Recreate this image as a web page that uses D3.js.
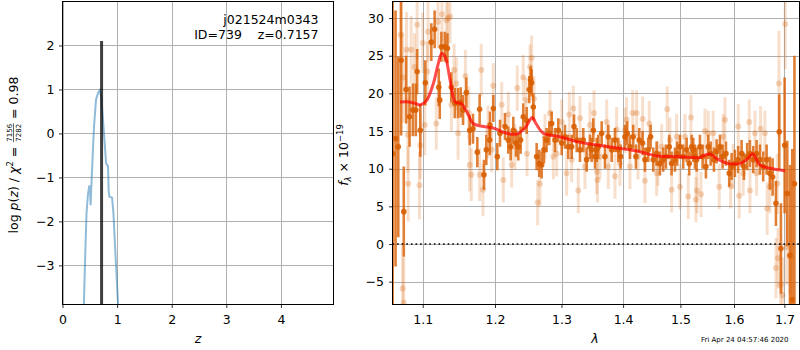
<!DOCTYPE html>
<html>
<head>
<meta charset="utf-8">
<script src="https://cdn.jsdelivr.net/npm/d3@7"></script>
<style>
  body { margin: 0; background: #fff; }
  text { font-family: "DejaVu Sans", sans-serif; }
</style>
</head>
<body>
<script>
// ---- left panel: log p(z) ----
const zGrid = [0.385, 0.42, 0.44, 0.465, 0.478, 0.49, 0.503, 0.515, 0.528, 0.552, 0.577, 0.613, 0.65,
  0.681, 0.71, 0.76, 0.798, 0.834, 0.845, 0.859, 0.908, 0.933, 0.975, 1.018, 1.03];
const logPz = [-4.2, -2.6, -1.82, -1.4, -1.29, -1.2, -1.2, -1.63, -1.21, -0.53, 0.15, 0.76, 0.92,
  0.98, 0.83, 0.0, -0.68, -0.75, -1.3, -1.44, -1.46, -1.82, -2.88, -3.88, -4.3];
const zBest = 0.7157;
const zBestTop = 2.1;
const zTicks = [0, 1, 2, 3, 4];
const zTickLabels = ["0", "1", "2", "3", "4"];
const pTicks = [-3, -2, -1, 0, 1, 2];
const pTickLabels = ["\u22123", "\u22122", "\u22121", "0", "1", "2"];
const chiNum = "7156", chiDen = "7282", chiRatio = "0.98";
const fieldName = "j021524m0343";
const idText = "ID=739    z=0.7157";

// ---- right panel: spectrum ----
const darkLam = [1.0609, 1.0646, 1.0681, 1.0718, 1.0752, 1.0782, 1.0827, 1.0870, 1.0909, 1.0926, 1.0968,
  1.1034, 1.1114, 1.1159, 1.1214, 1.1228, 1.1250, 1.1296, 1.1332, 1.1386, 1.1433, 1.1478, 1.1515, 1.1547,
  1.1593, 1.1640, 1.1686, 1.1747, 1.1780, 1.1842, 1.1875, 1.1924, 1.1928, 1.1975, 1.2033, 1.2072, 1.2145,
  1.2193, 1.2228, 1.2267, 1.2307, 1.2341, 1.2376, 1.2415, 1.2466, 1.2505, 1.2526, 1.2541, 1.2566, 1.2617,
  1.2656, 1.2693, 1.2728, 1.2769, 1.2810, 1.2847, 1.2898, 1.2950, 1.3003, 1.3054, 1.3106, 1.3160, 1.3197,
  1.3240, 1.3292, 1.3345, 1.3399, 1.3453, 1.3481, 1.3507, 1.3535, 1.3562, 1.3588, 1.3644, 1.3698, 1.3753,
  1.3809, 1.3864, 1.3919, 1.3959, 1.4031, 1.4070, 1.4116, 1.4172, 1.4218, 1.4275, 1.4333, 1.4373, 1.4430,
  1.4472, 1.4518, 1.4577, 1.4635, 1.4693, 1.4741, 1.4800, 1.4842, 1.4902, 1.4943, 1.4992, 1.5051, 1.5113,
  1.5160, 1.5204, 1.5234, 1.5265, 1.5296, 1.5357, 1.5407, 1.5468, 1.5511, 1.5556, 1.5618, 1.5668, 1.5731,
  1.5782, 1.5845, 1.5908, 1.5954, 1.6017, 1.6081, 1.6147, 1.6192, 1.6256, 1.6309, 1.6374, 1.6441, 1.6507,
  1.6572, 1.6640, 1.6706, 1.6761, 1.6828, 1.6895, 1.6929, 1.7005, 1.7059, 1.7114, 1.7162, 1.7207];
const darkFlux = [12, 14, 12.9, 24.4, 4.3, 20.5, 16.9, 17.8, 17.8, 22.9, 15.1,
  21.4, 26.8, 28.5, 20.8, 19.1, 26.2, 26.2, 26.0, 20.8, 18.7, 18.7, 18.8, 17.8,
  20.1, 15.1, 15.3, 12.2, 17.9, 9.2, 12.5, 13.8, 15.8, 18.0, 11.6, 14.7, 15.6,
  13.8, 12.9, 15.1, 13.4, 12.9, 13.8, 16.9, 16.4, 20.5, 21.8, 21.4, 18.2, 11.6,
  10.7, 10.5, 12.5, 13.8, 14.7, 16.0, 13.8, 15.1, 13.4, 14.25, 12.9, 12.9, 15.6,
  13.8, 12.5, 13.8, 11.2, 12.9, 12.5, 15.1, 11.6, 12.5, 12.9, 14.7, 11.6, 14.25,
  12.5, 13.8, 12.5, 11.6, 14.25, 14.7, 12.9, 14.25, 11.6, 13.8, 13.4, 11.2, 12.5,
  14.25, 11.2, 12.0, 10.7, 11.2, 11.6, 12.9, 10.7, 11.2, 12.0, 12.9, 11.6, 12.5,
  10.7, 12.9, 12.5, 11.6, 11.2, 12.9, 11.6, 10.3, 12.9, 12.0, 11.2, 12.3, 12.9,
  11.6, 12.0, 9.4, 10.3, 10.7, 11.2, 12.0, 10.3, 11.6, 12.0, 11.2, 12.0, 11.2,
  10.3, 11.2, 9.4, 8.9, 5.4, 14.9, -0.6, 13.1, 6.7, -1.5, -7.4, 8];
const darkErr = [25, 17, 12, 10, 6, 4.5, 4, 3.5, 3.5, 3, 3.5,
  3, 2.5, 2.5, 2.5, 2.5, 2, 2, 2, 2, 2, 2, 2, 2,
  2, 2, 2, 2, 2, 2, 2, 2, 1.8, 1.8, 1.8, 1.8, 1.8,
  1.8, 1.8, 1.8, 1.8, 1.8, 1.8, 1.8, 1.8, 1.8, 1.8, 1.8, 1.8, 1.8,
  1.8, 1.8, 1.8, 1.6, 1.6, 1.6, 1.6, 1.6, 1.6, 1.6, 1.6, 1.6, 1.6,
  1.6, 1.6, 1.6, 1.6, 1.6, 1.6, 1.6, 1.6, 1.6, 1.6, 1.6, 1.6, 1.6,
  1.6, 1.6, 1.6, 1.6, 1.6, 1.6, 1.6, 1.6, 1.6, 1.6, 1.6, 1.6, 1.6,
  1.6, 1.6, 1.6, 1.6, 1.6, 1.6, 1.6, 1.6, 1.6, 1.6, 1.6, 1.6, 1.6,
  1.6, 1.6, 1.6, 1.6, 1.6, 1.6, 1.6, 1.6, 1.6, 1.6, 1.6, 1.6, 1.6,
  1.6, 1.6, 1.8, 1.8, 1.8, 1.8, 1.8, 1.8, 1.8, 1.8, 1.8, 1.8, 2,
  2, 2, 2.2, 2.5, 3, 5, 6, 9, 7, 12, 20, 17];

const lightLam = [1.0710, 1.0736, 1.0740, 1.0752, 1.0788, 1.0805, 1.0809, 1.0848, 1.0892, 1.0926, 1.0957,
  1.0968, 1.1000, 1.1027, 1.1061, 1.1070, 1.1181, 1.1204, 1.1258, 1.1318, 1.1340, 1.1368, 1.1386, 1.1423,
  1.1455, 1.1478, 1.1579, 1.1626, 1.1640, 1.1662, 1.1780, 1.1803, 1.1827, 1.1899, 1.1952, 1.1975, 1.2097,
  1.2120, 1.2193, 1.2243, 1.2292, 1.2326, 1.2415, 1.2455, 1.2471, 1.2516, 1.2541, 1.2576, 1.2632, 1.2667,
  1.2744, 1.2821, 1.2872, 1.2925, 1.3003, 1.3081, 1.3122, 1.3160, 1.3186, 1.3265, 1.3292, 1.3372, 1.3453,
  1.3518, 1.3562, 1.3575, 1.3616, 1.3727, 1.3753, 1.3864, 1.3892, 1.3947, 1.4031, 1.4060, 1.4116, 1.4162,
  1.4230, 1.4253, 1.4333, 1.4373, 1.4448, 1.4577, 1.4600, 1.4665, 1.4764, 1.4812, 1.4842, 1.4932, 1.4992,
  1.5082, 1.5142, 1.5192, 1.5283, 1.5302, 1.5376, 1.5450, 1.5511, 1.5604, 1.5718, 1.5793, 1.5826, 1.5934,
  1.5984, 1.6081, 1.6100, 1.6178, 1.6296, 1.6309, 1.6408, 1.6441, 1.6520, 1.6606, 1.6652, 1.6706, 1.6828,
  1.6855, 1.6869, 1.6889, 1.6923, 1.6964, 1.7017, 1.7046, 1.7114];
const lightFlux = [27.8, -5.9, 22.1, -7.8, 25.8, 14.5, 8.0, 25.8, 23.5, 29.1, 7.8,
  13.1, 26.7, 15.8, 22.9, 28.2, 16.0, 29.5, 30.5, 29.7, 30.0, 30.2, 18.5, 23.1,
  21.3, 14.7, 22.3, 17.4, 10.5, 9.2, 9.2, 23.1, 7.2, 14.9, 12.5, 21.0, 18.5,
  8.5, 17.2, 10.5, 12.9, 20.7, 22.1, 19.1, 12.0, 23.5, 24.7, 19.3, 5.5, 8.0,
  14.25, 17.4, 11.6, 12.0, 16.2, 9.4, 17.2, 11.2, 18.0, 7.1, 16.7, 10.3, 15.8,
  17.4, 9.6, 8.5, 11.6, 16.2, 10.3, 9.0, 15.2, 10.7, 15.1, 16.5, 10.3, 17.4,
  17.4, 11.6, 16.6, 8.4, 16.0, 9.4, 10.7, 12.9, 17.9, 13.8, 7.2, 14.25, 7.6,
  14.25, 6.3, 16.8, 5.9, 7.1, 6.6, 15.0, 14.7, 14.7, 7.6, 14.25, 16.5, 7.7,
  10.3, 15.6, 6.4, 9.4, 16.2, 7.1, 14.7, 9.4, 15.3, 14.7, 4.7, 7.6, -3.2,
  8.0, -1.9, 21.3, -5.4, -6.8, 29.2, -0.4, -1.7];
const lightErr = [8, 6, 6, 6, 5, 5, 5, 4.5, 4.5, 4.5, 4.5,
  4.5, 4, 4, 4, 4, 3.5, 3.5, 3.5, 3.5, 3.5, 3.5, 3.5, 3.5,
  3.5, 3.5, 3.5, 3.5, 3.5, 3.5, 3.5, 3.5, 3.5, 3.5, 3, 3, 3,
  3, 3, 3, 3, 3, 3, 3, 3, 3, 3, 3, 3, 3,
  3, 3, 3, 3, 3, 3, 3, 3, 3, 3, 3, 3, 3,
  3, 3, 3, 3, 3, 3, 3, 3, 3, 3, 3, 3, 3,
  3, 3, 3, 3, 3, 3, 3, 3, 3, 3, 3, 3, 3,
  3, 3, 3, 3, 3, 3, 3, 3, 3, 3, 3, 3, 3,
  3, 3, 3, 3, 3, 3, 3, 3, 3, 3, 3.5, 3.5, 4,
  4, 4, 7, 5, 5, 6, 5, 5];

const modelLam = [1.0702, 1.0788, 1.0897, 1.0964, 1.1053, 1.1141, 1.1204, 1.1255, 1.1300, 1.1368, 1.1437,
  1.1528, 1.1598, 1.1690, 1.1832, 1.1975, 1.2169, 1.2317, 1.2441, 1.2551, 1.2606, 1.2718, 1.2976, 1.3240,
  1.3562, 1.3947, 1.4287, 1.4577, 1.4992, 1.5357, 1.5450, 1.5543, 1.5700, 1.5889, 1.6114, 1.6276, 1.6362,
  1.6507, 1.6706, 1.7011];
const modelFlux = [18.86, 18.9, 18.7, 18.46, 19.1, 21.3, 23.8, 25.3, 24.9, 21.8, 18.9,
  18.6, 17.6, 16.0, 15.6, 15.4, 14.7, 14.6, 15.4, 16.8, 16.0, 14.7, 14.25, 13.6,
  13.15, 12.7, 12.26, 11.7, 11.6, 11.5, 11.8, 11.95, 11.2, 10.7, 10.7, 11.4, 12.0,
  10.5, 10.05, 9.73];

const lamTicks = [1.1, 1.2, 1.3, 1.4, 1.5, 1.6, 1.7];
const lamTickLabels = ["1.1", "1.2", "1.3", "1.4", "1.5", "1.6", "1.7"];
const fluxTicks = [-5, 0, 5, 10, 15, 20, 25, 30];
const fluxTickLabels = ["\u22125", "0", "5", "10", "15", "20", "25", "30"];
const timestamp = "Fri Apr 24 04:57:46 2020";

main();

function main() {
  const width = 800;
  const height = 350;
  const fs = 12.5;

  const svg = d3.select("body").append("svg")
    .attr("width", width)
    .attr("height", height);
  svg.append("rect").attr("width", width).attr("height", height).attr("fill", "#fff");

  // ================= left panel =================
  const L = { x0: 62.5, x1: 333.5, y0: 1.5, y1: 304.5 };
  const xz = d3.scaleLinear().domain([0, 4.963]).range([L.x0, L.x1]);
  const yp = d3.scaleLinear().domain([-3.89, 3.0]).range([L.y1, L.y0]);

  addClip(svg, "clipL", L);
  drawGrid(svg, L, xz, zTicks, yp, pTicks);

  const gL = svg.append("g").attr("clip-path", "url(#clipL)");
  const pz = zGrid.map((z, i) => [z, logPz[i]]);
  gL.append("path")
    .datum(pz)
    .attr("d", d3.line().x(d => xz(d[0])).y(d => yp(d[1])))
    .attr("fill", "none")
    .attr("stroke", "#1f77b4")
    .attr("stroke-opacity", 0.5)
    .attr("stroke-width", 2);
  gL.append("line")
    .attr("x1", xz(zBest)).attr("x2", xz(zBest))
    .attr("y1", yp(zBestTop)).attr("y2", L.y1)
    .attr("stroke", "#000")
    .attr("stroke-opacity", 0.75)
    .attr("stroke-width", 3);

  drawAxes(svg, L, xz, zTicks, zTickLabels, yp, pTicks, pTickLabels, fs, 4.5);

  svg.append("text").attr("x", 318.5).attr("y", 24).attr("text-anchor", "end")
    .attr("font-size", fs).text(fieldName);
  svg.append("text").attr("x", 318.5).attr("y", 39).attr("text-anchor", "end")
    .attr("font-size", fs).style("white-space", "pre").text(idText);

  svg.append("text").attr("x", (L.x0 + L.x1) / 2).attr("y", 343).attr("text-anchor", "middle")
    .attr("font-size", fs).attr("font-style", "italic").text("z");

  leftLabel(svg, fs);

  // ================= right panel =================
  const R = { x0: 392.5, x1: 799.5, y0: 1.5, y1: 304.5 };
  const xl = d3.scaleLog().domain([1.0607, 1.7312]).range([R.x0, R.x1]);
  const yf = d3.scaleLinear().domain([-8.03, 32.2]).range([R.y1, R.y0]);

  addClip(svg, "clipR", R);
  drawGrid(svg, R, xl, lamTicks, yf, fluxTicks);

  const gR = svg.append("g").attr("clip-path", "url(#clipR)");
  const orange = "#d95f02";

  const light = lightLam.map((l, i) => ({ l, f: lightFlux[i], e: lightErr[i] }));
  const dark = darkLam.map((l, i) => ({ l, f: darkFlux[i], e: darkErr[i] }));

  gR.append("g").selectAll("line").data(light).join("line")
    .attr("x1", d => xl(d.l)).attr("x2", d => xl(d.l))
    .attr("y1", d => yf(d.f - d.e)).attr("y2", d => yf(d.f + d.e))
    .attr("stroke", orange).attr("stroke-opacity", 0.2).attr("stroke-width", 3);
  gR.append("g").selectAll("circle").data(light).join("circle")
    .attr("cx", d => xl(d.l)).attr("cy", d => yf(d.f)).attr("r", 3)
    .attr("fill", orange).attr("fill-opacity", 0.25);

  gR.append("g").selectAll("line").data(dark).join("line")
    .attr("x1", d => xl(d.l)).attr("x2", d => xl(d.l))
    .attr("y1", d => yf(d.f - d.e)).attr("y2", d => yf(d.f + d.e))
    .attr("stroke", orange).attr("stroke-opacity", 0.8).attr("stroke-width", 2.6);
  gR.append("g").selectAll("circle").data(dark).join("circle")
    .attr("cx", d => xl(d.l)).attr("cy", d => yf(d.f)).attr("r", 2.8)
    .attr("fill", orange).attr("fill-opacity", 0.9);

  const model = modelLam.map((l, i) => [l, modelFlux[i]]);
  gR.append("path")
    .datum(model)
    .attr("d", d3.line().curve(d3.curveCatmullRom).x(d => xl(d[0])).y(d => yf(d[1])))
    .attr("fill", "none")
    .attr("stroke", "red")
    .attr("stroke-opacity", 0.7)
    .attr("stroke-width", 3);

  gR.append("line")
    .attr("x1", R.x0).attr("x2", R.x1)
    .attr("y1", yf(0)).attr("y2", yf(0))
    .attr("stroke", "#000")
    .attr("stroke-width", 1.6)
    .attr("stroke-dasharray", "1.6,3");

  drawAxes(svg, R, xl, lamTicks, lamTickLabels, yf, fluxTicks, fluxTickLabels, fs, 5);

  svg.append("text").attr("x", 595).attr("y", 343).attr("text-anchor", "middle")
    .attr("font-size", fs).attr("font-style", "italic").text("\u03bb");

  // f_lambda x 10^-19
  const rl = svg.append("text")
    .attr("transform", "translate(348,155) rotate(-90)")
    .attr("text-anchor", "middle")
    .attr("font-size", fs);
  rl.append("tspan").attr("font-style", "italic").text("f");
  rl.append("tspan").attr("font-style", "italic").attr("font-size", 8.5).attr("dy", 2.5).text("\u03bb");
  rl.append("tspan").attr("dy", -2.5).style("white-space", "pre").text(" \u00d7 10");
  rl.append("tspan").attr("font-size", 8.5).attr("dy", -5).text("\u221219");

  svg.append("text").attr("x", 788.5).attr("y", 342).attr("text-anchor", "end")
    .attr("font-size", 7).text(timestamp);
}

function addClip(svg, id, P) {
  svg.append("clipPath").attr("id", id)
    .append("rect")
    .attr("x", P.x0).attr("y", P.y0)
    .attr("width", P.x1 - P.x0).attr("height", P.y1 - P.y0);
}

function drawGrid(svg, P, x, xt, y, yt) {
  const g = svg.append("g");
  g.selectAll(".gx").data(xt).join("line")
    .attr("x1", d => Math.round(x(d)) + 0.5).attr("x2", d => Math.round(x(d)) + 0.5)
    .attr("y1", P.y0).attr("y2", P.y1)
    .attr("stroke", "#b0b0b0").attr("stroke-width", 1);
  g.selectAll(".gy").data(yt).join("line")
    .attr("x1", P.x0).attr("x2", P.x1)
    .attr("y1", d => Math.round(y(d)) + 0.5).attr("y2", d => Math.round(y(d)) + 0.5)
    .attr("stroke", "#b0b0b0").attr("stroke-width", 1);
}

function drawAxes(svg, P, x, xt, xl, y, yt, yl, fs, ypad) {
  const ax = svg.append("g")
    .attr("transform", `translate(0,${P.y1})`)
    .call(d3.axisBottom(x).tickValues(xt).tickFormat((d, i) => xl[i]).tickSize(3.5).tickPadding(7));
  const ay = svg.append("g")
    .attr("transform", `translate(${P.x0},0)`)
    .call(d3.axisLeft(y).tickValues(yt).tickFormat((d, i) => yl[i]).tickSize(3.5).tickPadding(ypad));
  [ax, ay].forEach(a => {
    a.select(".domain").remove();
    a.attr("font-size", fs).attr("font-family", "DejaVu Sans");
    a.selectAll("line").attr("stroke", "#000").attr("stroke-width", 0.8);
    a.selectAll("text").attr("fill", "#000");
  });
  svg.append("rect")
    .attr("x", P.x0).attr("y", P.y0)
    .attr("width", P.x1 - P.x0).attr("height", P.y1 - P.y0)
    .attr("fill", "none").attr("stroke", "#000").attr("stroke-width", 1);
}

function leftLabel(svg, fs) {
  const small = 7;
  const outer = svg.append("g").attr("transform", "translate(17.5,155) rotate(-90)");
  const g = outer.append("g");
  const t1 = g.append("text").attr("font-size", fs).style("white-space", "pre");
  t1.append("tspan").text("log ");
  t1.append("tspan").attr("font-style", "italic").text("p");
  t1.append("tspan").text("(");
  t1.append("tspan").attr("font-style", "italic").text("z");
  t1.append("tspan").text(") / ");
  t1.append("tspan").attr("font-style", "italic").text("\u03c7");
  t1.append("tspan").attr("font-size", 8.5).attr("dy", -5).text("2");
  t1.append("tspan").attr("dy", 5).text(" = ");
  const w1 = t1.node().getComputedTextLength();

  const num = g.append("text").attr("font-size", small).attr("x", w1 + 1).attr("y", -5.8).text(chiNum);
  const den = g.append("text").attr("font-size", small).attr("x", w1 + 1).attr("y", 3.8).text(chiDen);
  const fw = Math.max(num.node().getComputedTextLength(), den.node().getComputedTextLength());
  g.append("line")
    .attr("x1", w1 + 0.5).attr("x2", w1 + fw + 1.5)
    .attr("y1", -4).attr("y2", -4)
    .attr("stroke", "#000").attr("stroke-width", 0.6);

  const t3 = g.append("text").attr("font-size", fs).attr("x", w1 + fw + 2)
    .style("white-space", "pre").text(" = " + chiRatio);
  const total = w1 + fw + 2 + t3.node().getComputedTextLength();
  g.attr("transform", `translate(${-total / 2},0)`);
}
</script>
</body>
</html>
